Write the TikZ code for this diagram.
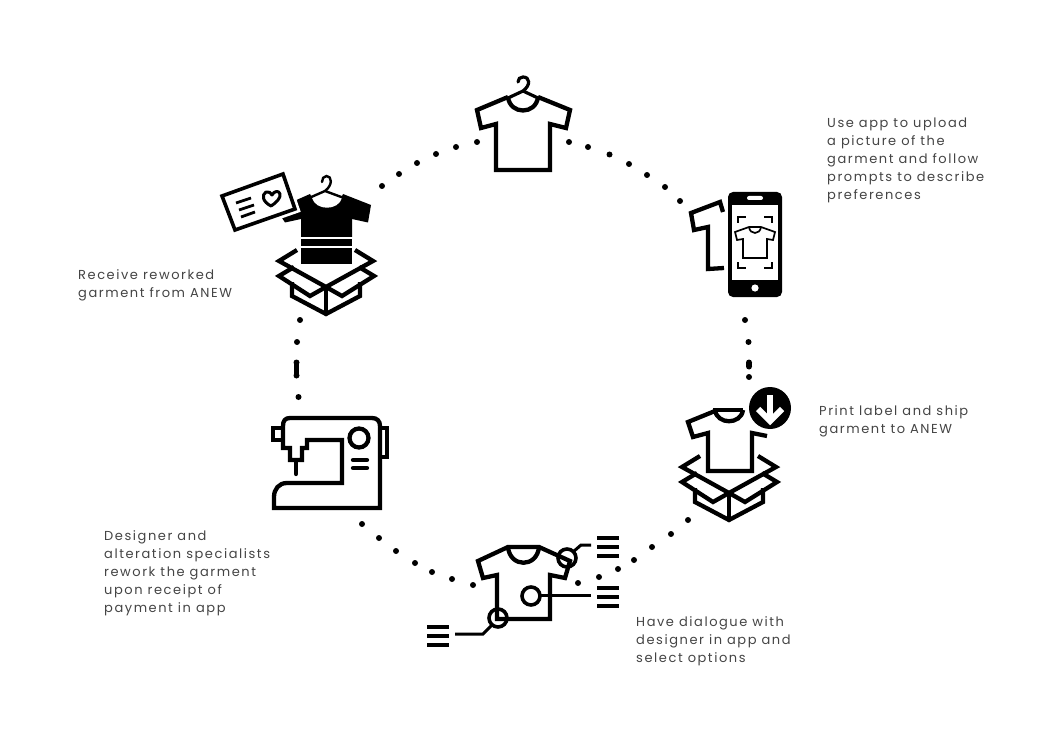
\documentclass[tikz,border=0pt]{standalone}
\usepackage{fontspec}
\setmainfont[LetterSpace=12]{Poppins}
\definecolor{txt}{HTML}{444444}
\tikzset{
  x=1pt,y=-1pt,
  line/.style={line width=4.3pt,line join=miter,line cap=butt,black},
  dotmark/.style={circle,fill=black,inner sep=0pt,minimum size=6pt},
  caption/.style={align=left,anchor=north west,inner sep=0pt,font=\fontsize{13}{18}\selectfont,text=txt},
  pics/openbox/.style={code={
    \draw[line] (-29,-37)--(-47,-26)--(0,0)--(47,-26)--(29,-37);
    \draw[line] (-32,-20)--(-47,-11)--(-16,9)--(0,0)--(16,9)--(48,-11)--(33,-20);
    \draw[line] (-34,-5)--(-34,9)--(0,27)--(34,9)--(34,-5);
    \draw[line] (0,0)--(0,27);
  }},
  bars/.style={fill=black}
}
\newcommand{\threebars}[2]{%
  \fill[bars] (#1,#2) rectangle ++(22,4.2);
  \fill[bars] (#1,#2+9) rectangle ++(22,4.2);
  \fill[bars] (#1,#2+18) rectangle ++(22,4.2);
}
\begin{document}
\begin{tikzpicture}
\useasboundingbox (0,0) rectangle (1052,730);
% dots
\foreach \i/\p in {1/{382,186},2/{399,174},3/{417,163},4/{436,154},5/{456,147},6/{477,142},
  7/{569,142},8/{588,147},9/{609.5,154.5},10/{629,164},11/{647,175},12/{665,187},13/{680,201},
  14/{745,320},15/{748.5,342},16/{749,362.5},17/{749,366.5},18/{749,377},
  19/{688,520},20/{671,534},21/{652,547},22/{634,560},23/{618,569},24/{599,577},25/{578,583},
  26/{473,585},27/{452,579},28/{432,572},29/{415,563},30/{396,551},31/{379,538},32/{362,524},
  33/{300,320},34/{297,342},35/{296.5,362.5},36/{296.5,375.5},37/{298.5,397}}
  \node[dotmark] (d\i) at (\p) {};
\draw[line,line width=5.4pt] (d35.center)--(d36.center);
\draw[line,line width=5.4pt] (d16.center)--(d17.center);
% top shirt
\draw[line] (508,97)--(477,110)--(481,128)--(496,124)--(496,170)--(550,170)--(550,124)--(566,128)--(570,110)--(538,97);
\draw[line] (508,97) .. controls (510,115) and (536,115) .. (538,97);
\draw[line,line width=3.2pt,line join=round] (508,98)--(523,91)--(538,98);
\draw[line,line width=3.2pt,line cap=round] (523,91) .. controls (531,85) and (530,77) .. (523,77) .. controls (520,77) and (518,79) .. (518,82);
% right phone
\draw[line] (724,268)--(708,269)--(708,227)--(694,230)--(691,213)--(720,202)--(723,212);
\fill[black,rounded corners=5pt] (728,192) rectangle (782,297);
\fill[white] (732,205) rectangle (778,280);
\fill[white,rounded corners=2pt] (747,196) rectangle (763,200);
\fill[white] (755,288) circle[radius=3.6];
\draw[line width=1.5pt] (738,223)--(738,217)--(746,217);
\draw[line width=1.5pt] (764,217)--(772,217)--(772,223);
\draw[line width=1.5pt] (738,262)--(738,268)--(746,268);
\draw[line width=1.5pt] (764,268)--(772,268)--(772,262);
\draw[line,line width=1.7pt] (749,227)--(735,232)--(737,240)--(743,239)--(743,258)--(767,258)--(767,239)--(773,240)--(775,232)--(761,227)--cycle;
\draw[line,line width=1.7pt] (749,227) .. controls (750,235) and (760,235) .. (761,227);
% right box shirt
\pic at (729,493) {openbox};
\draw[line] (715,411)--(688,422)--(693,437)--(708,433)--(708,471)--(752,471)--(752,433)--(767,436);
\draw[line] (713,410)--(743,410);
\draw[line] (715,410) .. controls (717,425) and (741,425) .. (743,410);
\fill[black] (770,408) circle[radius=21];
\draw[white,line width=6pt] (770,395)--(770,418);
\draw[white,line width=6pt] (758,409)--(770,421)--(782,409);
% bottom shirt
\draw[line] (508,547)--(478,561)--(483,578)--(497,575)--(497,619)--(550,619)--(550,575)--(565,578)--(570,561)--(539,547)--cycle;
\draw[line] (508,547) .. controls (510,568) and (537,568) .. (539,547);
\draw[line,line width=3.6pt] (567,558) circle[radius=9];
\fill[white] (531,596) circle[radius=9];
\draw[line,line width=3.6pt] (531,596) circle[radius=9];
\draw[line,line width=3.6pt] (498,618) circle[radius=9];
\draw[line,line width=3pt] (573,552)--(581,545)--(591,545);
\draw[line,line width=3pt] (540,595)--(591,595);
\draw[line,line width=3pt] (492,625)--(483,634)--(455,634);
\threebars{597}{536}
\threebars{597}{586}
\threebars{427}{625}
% sewing machine
\draw[line] (283,428)--(283,426) .. controls (283,421) and (285,418) .. (290,418)--(372,418) .. controls (377,418) and (380,421) .. (380,426)--(380,508)--(274,508)--(274,497) .. controls (274,489) and (279,483) .. (287,483)--(342,483)--(342,440)--(307,440)--(307,448)--(302,448)--(302,460)--(290,460)--(290,448)--(283,448)--cycle;
\draw[line] (283,428)--(273,428)--(273,440)--(283,440);
\draw[line] (380,428)--(387,428)--(387,457)--(380,457);
\draw[line] (359,438) circle[radius=9.5];
\draw[line,line cap=round] (296,462)--(296,474);
\draw[line,line cap=round] (353,460)--(367,460);
\draw[line,line cap=round] (353,468)--(367,468);
% left box shirt
\begin{scope}[xscale=1.04]
\pic at (313.46,287) {openbox};
\end{scope}
\fill[black] (310,194)--(276,209)--(285,222.5)--(301,219)--(301,237)--(352,237)--(352,219)--(368,222.5)--(371,205)--(343,194)--(341,198)--(312,198)--cycle;
\fill[white] (312,198) .. controls (316,211) and (338,211) .. (342,198) -- (325,192)--cycle;
\fill[black] (301,239) rectangle (352,246);
\fill[black] (301,248) rectangle (352,263.5);
\draw[line,line width=2.4pt,line join=round] (309,198)--(325,191)--(344,198);
\draw[line,line width=2.4pt,line cap=round] (325,191) .. controls (333,185) and (332,176) .. (326.5,176) .. controls (323.5,176) and (322,179) .. (322,182);
\draw[white,line width=9pt,fill=white] (222,196)--(283,174)--(295,209)--(235,230)--cycle;
\draw[line,line width=3.6pt,fill=white] (222,196)--(283,174)--(295,209)--(235,230)--cycle;
\draw[line,line width=2.8pt] (236,203)--(251,198);
\draw[line,line width=2.8pt] (239,210)--(254,205);
\draw[line,line width=2.8pt] (241,217)--(255,212);
\draw[line,line width=3pt,line join=round] (271,206) .. controls (263,202) and (261,195) .. (266,192) .. controls (269,191) and (271,193) .. (272,195) .. controls (274,191) and (279,190) .. (280,194) .. controls (281,198) and (276,203) .. (271,206) -- cycle;
% captions
\node[caption] (t1) at (827,118) {Use app to upload\\a picture of the\\garment and follow\\prompts to describe\\preferences};
\node[caption] (t2) at (819,405) {Print label and ship\\garment to ANEW};
\node[caption] (t3) at (636,616) {Have dialogue with\\designer in app and\\select options};
\node[caption] (t4) at (104,530) {Designer and\\alteration specialists\\rework the garment\\upon receipt of\\payment in app};
\node[caption] (t5) at (78,269) {Receive reworked\\garment from ANEW};
\end{tikzpicture}
\end{document}
